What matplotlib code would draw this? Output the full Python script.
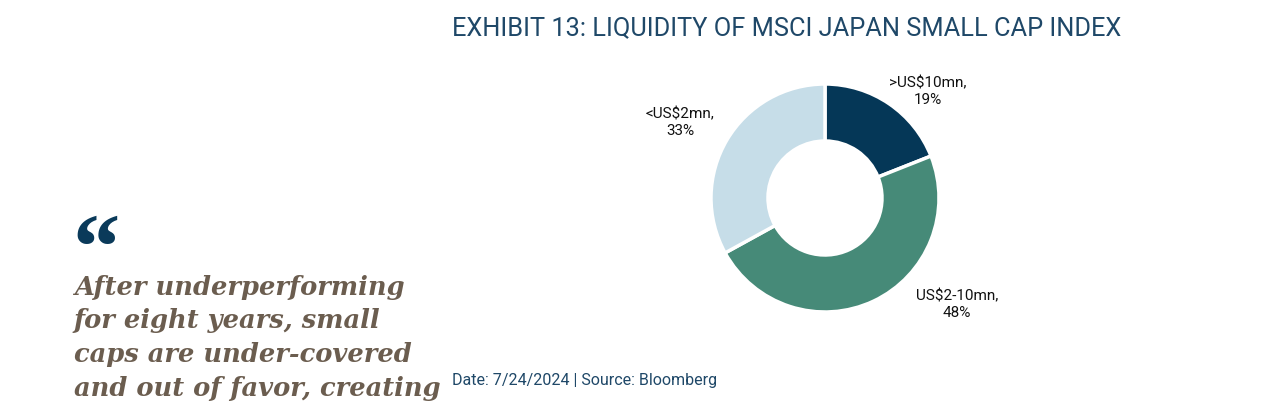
import matplotlib
matplotlib.use("Agg")
import matplotlib.pyplot as plt

categories = [">US$10mn", "US$2-10mn", "<US$2mn"]
values = [19, 48, 33]
colors = ["#053757", "#468a78", "#c6dde8"]
label_pos = [(928, 92), (957, 305), (680, 123)]  # pixel positions of labels

W, H = 1275, 404
fig = plt.figure(figsize=(W/100, H/100), dpi=100)
fig.patch.set_facecolor("white")

cx, cy, r = 825, 198, 114
ax = fig.add_axes([(cx-r)/W, (H-cy-r)/H, 2*r/W, 2*r/H])
ax.pie(values, colors=colors, startangle=90, counterclock=False,
       wedgeprops=dict(width=0.5, edgecolor="white", linewidth=2.5))
ax.set_xlim(-1, 1); ax.set_ylim(-1, 1)
ax.set_aspect("equal"); ax.axis("off")

for cat, v, (px, py) in zip(categories, values, label_pos):
    fig.text(px/W, 1-py/H, f"{cat},\n{v}%", ha="center", va="center",
             fontsize=11, family="Roboto", color="#111111", linespacing=1.25)

fig.text(452/W, 1-28/H, "EXHIBIT 13: LIQUIDITY OF MSCI JAPAN SMALL CAP INDEX",
         ha="left", va="center", fontsize=18.3, family="Roboto",
         color="#1f4868")
fig.text(452/W, 1-380/H, "Date: 7/24/2024 | Source: Bloomberg",
         ha="left", va="center", fontsize=11.5, family="Roboto", color="#1f4868")

fig.text(72/W, 1-255/H, "\u201c", ha="left", va="center", fontsize=68,
         family="Liberation Serif", fontweight="bold", color="#0a3a5a")
lines = ["After underperforming", "for eight years, small",
         "caps are under-covered", "and out of favor, creating"]
for i, t in enumerate(lines):
    fig.text(74/W, 1-(287+33.7*i)/H, t, ha="left", va="center", fontsize=18.5,
             family="DejaVu Serif", style="italic", fontweight="bold",
             color="#6b5d4f")

fig.savefig("out.png", dpi=100)
